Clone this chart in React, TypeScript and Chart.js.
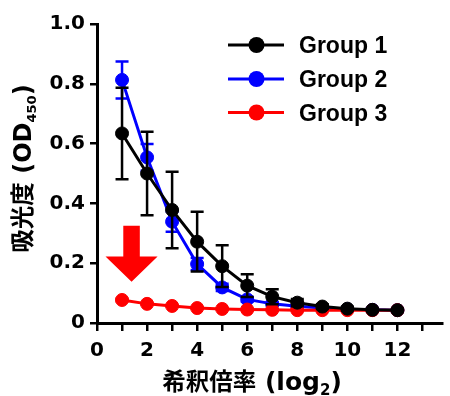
import React, { useEffect, useRef } from "react";
import { Chart, registerables } from "chart.js";

Chart.register(...registerables);

// ---- data ----
const dilutions = [1, 2, 3, 4, 5, 6, 7, 8, 9, 10, 11, 12];
const group1 = [0.634, 0.5, 0.378, 0.272, 0.19, 0.125, 0.088, 0.068, 0.055, 0.048, 0.044, 0.043];
const group1Err = [0.153, 0.14, 0.128, 0.1, 0.07, 0.038, 0.025, 0.012, 0.008, 0.006, 0.005, 0.004];
const group2 = [0.813, 0.554, 0.339, 0.197, 0.119, 0.079, 0.064, 0.056, 0.05, 0.046, 0.044, 0.043];
const group2Err = [0.062, 0.045, 0.034, 0.02, 0.012, 0.008, 0.006, 0.005, 0.004, 0.004, 0.003, 0.003];
const group3 = [0.077, 0.064, 0.057, 0.05, 0.047, 0.045, 0.044, 0.043, 0.043, 0.043, 0.043, 0.043];
const group3Err = [0.004, 0.003, 0.003, 0.002, 0.002, 0.002, 0.002, 0.002, 0.002, 0.002, 0.002, 0.002];
const seriesNames = ["Group 1", "Group 2", "Group 3"];
const seriesColors = ["#000000", "#0000ff", "#ff0000"];
const xTickLabels = ["0", "2", "4", "6", "8", "10", "12"];
const yTickValues = [0, 0.2, 0.4, 0.6, 0.8, 1.0];

// annotation arrow (in data units)
const arrowSpec = { x: 1.38, top: 0.325, headBase: 0.222, tip: 0.138, shaftHalf: 0.33, headHalf: 1.04 };

const errorsByDataset = [group1Err, group2Err, group3Err];

const LATIN = "'DejaVu Sans'";
const CJK = "'Noto Sans CJK JP'";

type Seg = { t: string; font: string; dy: number };

function segWidth(ctx: CanvasRenderingContext2D, segs: Seg[]) {
  let w = 0;
  for (const s of segs) {
    ctx.font = s.font;
    w += ctx.measureText(s.t).width;
  }
  return w;
}
function drawSegs(ctx: CanvasRenderingContext2D, segs: Seg[], x0: number, y: number) {
  let x = x0;
  for (const s of segs) {
    ctx.font = s.font;
    ctx.fillText(s.t, x, y + s.dy);
    x += ctx.measureText(s.t).width;
  }
}

const errorBarPlugin = {
  id: "errorBars",
  beforeDatasetDraw(chart: any, args: any) {
    const idx = args.index;
    const meta = args.meta;
    const errs = errorsByDataset[idx];
    const ds = chart.data.datasets[idx];
    const ys = chart.scales.y;
    const ctx = chart.ctx;
    ctx.save();
    ctx.strokeStyle = ds.borderColor;
    ctx.lineWidth = 2.5;
    meta.data.forEach((pt: any, i: number) => {
      const v = ds.data[i].y;
      const e = errs[i];
      const yt = ys.getPixelForValue(v + e);
      const yb = ys.getPixelForValue(v - e);
      const x = pt.x;
      ctx.beginPath();
      ctx.moveTo(x, yt);
      ctx.lineTo(x, yb);
      ctx.moveTo(x - 6.5, yt);
      ctx.lineTo(x + 6.5, yt);
      ctx.moveTo(x - 6.5, yb);
      ctx.lineTo(x + 6.5, yb);
      ctx.stroke();
    });
    ctx.restore();
  },
};

const decorPlugin = {
  id: "decor",
  afterDraw(chart: any) {
    const ctx: CanvasRenderingContext2D = chart.ctx;
    const xs = chart.scales.x;
    const ys = chart.scales.y;
    ctx.save();

    // arrow
    const ax = xs.getPixelForValue(arrowSpec.x);
    const sh = xs.getPixelForValue(arrowSpec.x + arrowSpec.shaftHalf) - ax;
    const hh = xs.getPixelForValue(arrowSpec.x + arrowSpec.headHalf) - ax;
    const yTop = ys.getPixelForValue(arrowSpec.top);
    const yBase = ys.getPixelForValue(arrowSpec.headBase);
    const yTip = ys.getPixelForValue(arrowSpec.tip);
    ctx.fillStyle = "#ff0000";
    ctx.beginPath();
    ctx.moveTo(ax - sh, yTop);
    ctx.lineTo(ax + sh, yTop);
    ctx.lineTo(ax + sh, yBase);
    ctx.lineTo(ax + hh, yBase);
    ctx.lineTo(ax, yTip);
    ctx.lineTo(ax - hh, yBase);
    ctx.lineTo(ax - sh, yBase);
    ctx.closePath();
    ctx.fill();

    // legend
    const rows = [45, 79, 112.5];
    seriesNames.forEach((name, i) => {
      const y = rows[i];
      ctx.strokeStyle = seriesColors[i];
      ctx.lineWidth = 3;
      ctx.beginPath();
      ctx.moveTo(228, y);
      ctx.lineTo(284, y);
      ctx.stroke();
      ctx.fillStyle = seriesColors[i];
      ctx.beginPath();
      ctx.arc(256.5, y, 8, 0, Math.PI * 2);
      ctx.fill();
      ctx.fillStyle = "#000";
      ctx.font = "bold 23px 'Liberation Sans'";
      ctx.textAlign = "left";
      ctx.textBaseline = "alphabetic";
      ctx.fillText(name, 299, y + 8);
    });

    // axis titles
    ctx.fillStyle = "#000";
    ctx.textAlign = "left";
    ctx.textBaseline = "alphabetic";
    const xTitle: Seg[] = [
      { t: "希釈倍率", font: `bold 23.5px ${CJK}`, dy: 0 },
      { t: " (log", font: `bold 25px ${LATIN}`, dy: 0 },
      { t: "2", font: `bold 15px ${LATIN}`, dy: 5 },
      { t: ")", font: `bold 25px ${LATIN}`, dy: 0 },
    ];
    const wx = segWidth(ctx, xTitle);
    drawSegs(ctx, xTitle, 252 - wx / 2, 390);

    const yTitle: Seg[] = [
      { t: "吸光度", font: `bold 23.5px ${CJK}`, dy: 0 },
      { t: " (OD", font: `bold 24px ${LATIN}`, dy: 0 },
      { t: "450", font: `bold 13px ${LATIN}`, dy: 5 },
      { t: ")", font: `bold 24px ${LATIN}`, dy: 0 },
    ];
    const wy = segWidth(ctx, yTitle);
    ctx.translate(31, 168.5);
    ctx.rotate(-Math.PI / 2);
    drawSegs(ctx, yTitle, -wy / 2, 0);
    ctx.restore();
  },
};

export default function App() {
  const ref = useRef<HTMLCanvasElement | null>(null);

  useEffect(() => {
    document.body.style.margin = "0";
    const canvas = ref.current!;
    const mk = (vals: number[]) => vals.map((v, i) => ({ x: dilutions[i], y: v }));
    const datasets = [group1, group2, group3].map((vals, i) => ({
      label: seriesNames[i],
      data: mk(vals),
      borderColor: seriesColors[i],
      backgroundColor: seriesColors[i],
      pointBackgroundColor: seriesColors[i],
      pointBorderColor: seriesColors[i],
      borderWidth: 3,
      pointRadius: 6.5,
      pointBorderWidth: 1,
      pointHoverRadius: 6.5,
      tension: 0,
      clip: false as any,
      order: i === 0 ? 0 : i === 2 ? 1 : 2,
    }));

    const chart = new Chart(canvas, {
      type: "line",
      data: { datasets },
      options: {
        animation: false,
        responsive: false,
        devicePixelRatio: 1,
        layout: { padding: { top: 24, left: 0, right: 0, bottom: 0 } },
        plugins: { legend: { display: false }, tooltip: { enabled: false } },
        scales: {
          x: {
            type: "linear",
            min: 0,
            max: 13.8,
            afterFit: (s: any) => {
              s.height = 73;
            },
            ticks: {
              stepSize: 1,
              includeBounds: false,
              autoSkip: false,
              maxRotation: 0,
              padding: 8,
              color: "#000",
              font: { family: "DejaVu Sans", weight: "bold", size: 20 },
              callback: (v: any) => {
                const s = String(v);
                return xTickLabels.includes(s) ? s : "";
              },
            },
            grid: { display: true, drawOnChartArea: false, drawTicks: true, tickLength: 8, color: "#000", lineWidth: 2.5 },
            border: { display: true, color: "#000", width: 3 },
          },
          y: {
            min: 0,
            max: 1,
            afterFit: (s: any) => {
              s.width = 97;
            },
            afterBuildTicks: (s: any) => {
              s.ticks = yTickValues.map((v) => ({ value: v }));
            },
            ticks: {
              padding: 5,
              color: "#000",
              font: { family: "DejaVu Sans", weight: "bold", size: 20 },
              callback: (v: any) => (Number(v) === 0 ? "0" : Number(v).toFixed(1)),
            },
            grid: { display: true, drawOnChartArea: false, drawTicks: true, tickLength: 7, color: "#000", lineWidth: 2.5 },
            border: { display: true, color: "#000", width: 3 },
          },
        },
      },
      plugins: [errorBarPlugin, decorPlugin],
    });
    return () => chart.destroy();
  }, []);

  return (
    <div style={{ position: "absolute", left: 0, top: 0, width: 450, height: 396 }}>
      <canvas ref={ref} width={450} height={396} style={{ display: "block" }} />
    </div>
  );
}
